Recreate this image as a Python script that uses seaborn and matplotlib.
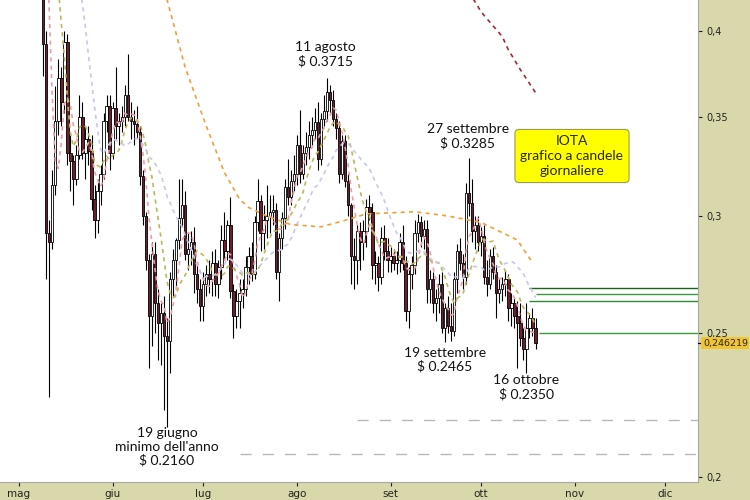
import matplotlib
matplotlib.use("Agg")
import matplotlib.pyplot as plt
import matplotlib.dates as mdates
import matplotlib.transforms as mtransforms
from matplotlib.ticker import NullLocator
import numpy as np
import pandas as pd
import seaborn as sns

# daily candles, 9 May -> 19 Oct 2022 (open = previous close)
first_day = "2022-05-09"
first_open = 0.52
highs = [0.530, 0.400, 0.298, 0.322, 0.367, 0.383, 0.378, 0.400, 0.398, 0.340,
         0.330, 0.335, 0.362, 0.358, 0.345, 0.345, 0.340, 0.315, 0.318, 0.325,
         0.352, 0.362, 0.362, 0.358, 0.378, 0.352, 0.356, 0.368, 0.386, 0.358,
         0.354, 0.356, 0.345, 0.322, 0.302, 0.283, 0.288, 0.288, 0.268, 0.262,
         0.265, 0.256, 0.275, 0.285, 0.290, 0.318, 0.318, 0.312, 0.292, 0.293,
         0.295, 0.278, 0.272, 0.275, 0.278, 0.280, 0.284, 0.285, 0.280, 0.296,
         0.302, 0.298, 0.309, 0.270, 0.268, 0.272, 0.272, 0.282, 0.286, 0.288,
         0.300, 0.318, 0.310, 0.305, 0.315, 0.310, 0.310, 0.306, 0.292, 0.302,
         0.318, 0.328, 0.322, 0.330, 0.340, 0.354, 0.335, 0.342, 0.348, 0.350,
         0.355, 0.358, 0.352, 0.362, 0.3715, 0.368, 0.365, 0.352, 0.348, 0.340,
         0.340, 0.320, 0.306, 0.290, 0.296, 0.297, 0.298, 0.308, 0.310, 0.306,
         0.284, 0.282, 0.295, 0.296, 0.290, 0.286, 0.285, 0.284, 0.292, 0.296,
         0.282, 0.277, 0.282, 0.298, 0.301, 0.300, 0.298, 0.298, 0.276, 0.275,
         0.268, 0.274, 0.275, 0.262, 0.265, 0.262, 0.275, 0.287, 0.290, 0.283,
         0.316, 0.3285, 0.318, 0.300, 0.300, 0.295, 0.296, 0.280, 0.285, 0.286,
         0.278, 0.272, 0.273, 0.276, 0.274, 0.266, 0.264, 0.263, 0.262, 0.252,
         0.262, 0.258, 0.260, 0.256]
lows = [0.373, 0.272, 0.2265, 0.285, 0.310, 0.340, 0.345, 0.352, 0.325, 0.312,
        0.305, 0.315, 0.328, 0.328, 0.318, 0.325, 0.303, 0.290, 0.292, 0.305,
        0.318, 0.342, 0.322, 0.328, 0.338, 0.335, 0.342, 0.345, 0.348, 0.338,
        0.335, 0.338, 0.315, 0.296, 0.276, 0.237, 0.245, 0.250, 0.240, 0.238,
        0.222, 0.216, 0.235, 0.265, 0.268, 0.285, 0.295, 0.280, 0.276, 0.278,
        0.266, 0.262, 0.255, 0.255, 0.265, 0.266, 0.265, 0.265, 0.264, 0.272,
        0.280, 0.280, 0.264, 0.248, 0.252, 0.252, 0.260, 0.265, 0.270, 0.271,
        0.272, 0.293, 0.284, 0.285, 0.290, 0.292, 0.296, 0.272, 0.263, 0.285,
        0.294, 0.305, 0.305, 0.312, 0.315, 0.316, 0.318, 0.325, 0.328, 0.335,
        0.338, 0.322, 0.325, 0.345, 0.348, 0.352, 0.345, 0.338, 0.316, 0.318,
        0.314, 0.300, 0.270, 0.268, 0.270, 0.276, 0.280, 0.286, 0.298, 0.272,
        0.270, 0.267, 0.270, 0.280, 0.275, 0.275, 0.276, 0.274, 0.275, 0.276,
        0.255, 0.252, 0.268, 0.274, 0.288, 0.286, 0.285, 0.262, 0.262, 0.258,
        0.255, 0.258, 0.250, 0.2465, 0.250, 0.247, 0.249, 0.266, 0.276, 0.268,
        0.270, 0.300, 0.288, 0.285, 0.284, 0.282, 0.270, 0.265, 0.268, 0.272,
        0.256, 0.262, 0.263, 0.265, 0.255, 0.253, 0.252, 0.237, 0.245, 0.240,
        0.235, 0.248, 0.249, 0.244]
closes = [0.392, 0.292, 0.288, 0.315, 0.348, 0.372, 0.358, 0.393, 0.331, 0.327,
          0.318, 0.330, 0.350, 0.331, 0.338, 0.332, 0.308, 0.298, 0.312, 0.320,
          0.348, 0.356, 0.331, 0.355, 0.345, 0.348, 0.350, 0.362, 0.350, 0.348,
          0.346, 0.342, 0.319, 0.300, 0.280, 0.257, 0.283, 0.262, 0.254, 0.258,
          0.249, 0.247, 0.272, 0.280, 0.289, 0.299, 0.305, 0.283, 0.285, 0.288,
          0.274, 0.268, 0.261, 0.270, 0.274, 0.272, 0.279, 0.270, 0.277, 0.289,
          0.284, 0.296, 0.267, 0.257, 0.263, 0.266, 0.268, 0.277, 0.282, 0.274,
          0.297, 0.307, 0.292, 0.298, 0.300, 0.302, 0.303, 0.275, 0.290, 0.299,
          0.314, 0.309, 0.317, 0.320, 0.335, 0.320, 0.331, 0.334, 0.340, 0.343,
          0.347, 0.328, 0.349, 0.353, 0.364, 0.359, 0.349, 0.344, 0.320, 0.337,
          0.317, 0.305, 0.282, 0.280, 0.293, 0.288, 0.293, 0.304, 0.302, 0.278,
          0.279, 0.273, 0.290, 0.284, 0.280, 0.282, 0.279, 0.280, 0.288, 0.279,
          0.259, 0.274, 0.278, 0.292, 0.297, 0.291, 0.294, 0.268, 0.272, 0.262,
          0.264, 0.270, 0.252, 0.260, 0.253, 0.251, 0.272, 0.284, 0.279, 0.273,
          0.311, 0.306, 0.293, 0.296, 0.288, 0.291, 0.273, 0.270, 0.282, 0.275,
          0.266, 0.268, 0.270, 0.272, 0.260, 0.262, 0.257, 0.254, 0.248, 0.244,
          0.252, 0.256, 0.252, 0.2462]

# closes before 9 May (above the top of the chart), only feed the short averages
prev_closes = [0.67, 0.63, 0.66, 0.66, 0.63, 0.68, 0.60, 0.59, 0.57, 0.52]

# long averages
ma50_dates = ["2022-06-16", "2022-06-19", "2022-06-25", "2022-07-02", "2022-07-08",
              "2022-07-13", "2022-07-16", "2022-07-22", "2022-07-30", "2022-08-09",
              "2022-08-17", "2022-08-24", "2022-09-09", "2022-09-20", "2022-10-01",
              "2022-10-13", "2022-10-18"]
ma50_values = [0.440, 0.420, 0.378, 0.345, 0.321, 0.308, 0.304, 0.300, 0.296, 0.295,
               0.298, 0.301, 0.302, 0.300, 0.297, 0.289, 0.279]
ma200_dates = ["2022-09-24", "2022-10-01", "2022-10-08", "2022-10-10", "2022-10-14", "2022-10-19"]
ma200_values = [0.435, 0.412, 0.3965, 0.3885, 0.3766, 0.3634]

green_levels = [0.2683, 0.2658, 0.2630, 0.2502]
green_starts = ["2022-10-17", "2022-10-19", "2022-10-17", "2022-10-20"]
grey_levels = [0.2185, 0.2073]
grey_starts = ["2022-08-21", "2022-07-13"]
last_price = 0.246219

y_ticks = [0.2, 0.25, 0.3, 0.35, 0.4]
y_tick_labels = ["0,2", "0,25", "0,3", "0,35", "0,4"]
month_starts = ["2022-05-01", "2022-06-01", "2022-07-01", "2022-08-01",
                "2022-09-01", "2022-10-01", "2022-11-01", "2022-12-01"]
month_labels = ["mag", "giu", "lug", "ago", "set", "ott", "nov", "dic"]

sns.set_style("white")
plt.rcParams["font.family"] = ["Lato", "DejaVu Sans"]

khaki = "#d8d8aa"
fig = plt.figure(figsize=(7.5, 5), dpi=100, facecolor=khaki)
ax = fig.add_axes([0, 18 / 500, 698 / 750, 482 / 500])
ax.set_facecolor("white")

dates = pd.date_range(first_day, periods=len(closes), freq="D")
x = mdates.date2num(dates)
opens = [first_open] + closes[:-1]
df = pd.DataFrame({"x": x, "open": opens, "high": highs, "low": lows, "close": closes})
up = df["close"] >= df["open"]

# wicks and bodies
ax.vlines(df["x"], df["low"], df["high"], color="black", lw=0.8, zorder=2)
ax.bar(df["x"], (df["close"] - df["open"]).abs(), bottom=df[["open", "close"]].min(axis=1),
       width=0.8, color=np.where(up, "white", "#6e1f2d"), edgecolor="black",
       linewidth=0.6, zorder=3)

# short moving averages
all_dates = pd.date_range(end=dates[-1], periods=len(prev_closes) + len(closes), freq="D")
all_close = pd.Series(prev_closes + closes, index=all_dates)
for win, col in [(5, "#e8a0a8"), (10, "#bcb85a"), (20, "#c8c8ec")]:
    ma = all_close.rolling(win).mean().dropna()
    sns.lineplot(x=mdates.date2num(ma.index), y=ma.values, ax=ax, color=col,
                 lw=1.2, linestyle=(0, (2.5, 2.5)), zorder=4)

sns.lineplot(x=mdates.date2num(pd.to_datetime(ma50_dates)), y=ma50_values, ax=ax,
             color="#f0a035", lw=1.2, linestyle=(0, (2.5, 2.5)), zorder=4)
sns.lineplot(x=mdates.date2num(pd.to_datetime(ma200_dates)), y=ma200_values, ax=ax,
             color="#a82832", lw=1.2, linestyle=(0, (2.5, 2.5)), zorder=4)

ax.set_yscale("log")
ax.set_ylim(0.1984, 0.4197)
x0 = mdates.date2num(pd.Timestamp("2022-05-01"))
ax.set_xlim(x0 - 6.3, x0 + 224.8)
xmax = ax.get_xlim()[1]

for lvl, st, col in zip(green_levels, green_starts, ["#1c641c", "#3a9a3a", "#2f8a2f", "#3a9a3a"]):
    ax.hlines(lvl, mdates.date2num(pd.Timestamp(st)), xmax, color=col, lw=1.0, zorder=2)
for lvl, st in zip(grey_levels, grey_starts):
    ax.hlines(lvl, mdates.date2num(pd.Timestamp(st)), xmax, color="#b8b8b8", lw=1.0,
              linestyle=(0, (8, 8)), zorder=1)

# annotations
txt = dict(ha="center", fontsize=10, linespacing=1.15, color="#111111",
           textcoords="offset points", zorder=6)
ax.annotate("11 agosto\n$ 0.3715", (mdates.date2num(pd.Timestamp("2022-08-11")), 0.3715),
            xytext=(-1, 8), va="bottom", **txt)
ax.annotate("27 settembre\n$ 0.3285", (mdates.date2num(pd.Timestamp("2022-09-27")), 0.3285),
            xytext=(-1, 6), va="bottom", **txt)
ax.annotate("19 settembre\n$ 0.2465", (mdates.date2num(pd.Timestamp("2022-09-19")), 0.2465),
            xytext=(0, -3), va="top", **txt)
ax.annotate("16 ottobre\n$ 0.2350", (mdates.date2num(pd.Timestamp("2022-10-16")), 0.2350),
            xytext=(0, -1), va="top", **txt)
ax.annotate("19 giugno\nminimo dell'anno\n$ 0.2160", (mdates.date2num(pd.Timestamp("2022-06-19")), 0.2160),
            xytext=(0, 0), va="top", **txt)

ax.text(572 / 698, 1 - 156 / 482, "IOTA\ngrafico a candele\ngiornaliere", transform=ax.transAxes,
        ha="center", va="center", fontsize=10, linespacing=1.3, zorder=6,
        bbox=dict(boxstyle="round,pad=0.4,rounding_size=0.3", fc="#ffff00", ec="#9a9a50", lw=0.8))

# axes
ax.yaxis.tick_right()
ax.set_yticks(y_ticks)
ax.set_yticklabels(y_tick_labels)
ax.yaxis.set_minor_locator(NullLocator())
ax.tick_params(axis="y", which="major", right=True, left=False, direction="out", length=3,
               pad=3, labelsize=7, colors="#222222", labelfontfamily="DejaVu Sans")
ax.set_xticks(mdates.date2num(pd.to_datetime(month_starts)))
ax.set_xticklabels(month_labels)
ax.tick_params(axis="x", bottom=True, direction="out", length=3, pad=2, labelsize=7.5,
               colors="#222222", labelfontfamily="DejaVu Sans")
ax.set_xlabel("")
ax.set_ylabel("")
for side in ["top", "left"]:
    ax.spines[side].set_visible(False)
for side in ["right", "bottom"]:
    ax.spines[side].set_color("#a8a8a8")
    ax.spines[side].set_linewidth(0.8)

# last price tag
tr = mtransforms.blended_transform_factory(ax.transAxes, ax.transData)
ax.plot([1.0, 1.006], [last_price, last_price], transform=tr, color="black", lw=0.9, clip_on=False, zorder=7)
ax.text(1.007, last_price, "0,246219", transform=tr, ha="left", va="center", fontsize=6.8,
        fontfamily="DejaVu Sans", zorder=7, clip_on=False,
        bbox=dict(boxstyle="square,pad=0.15", fc="#f2c530", ec="none"))

fig.savefig("out.png", dpi=100, facecolor=khaki)
